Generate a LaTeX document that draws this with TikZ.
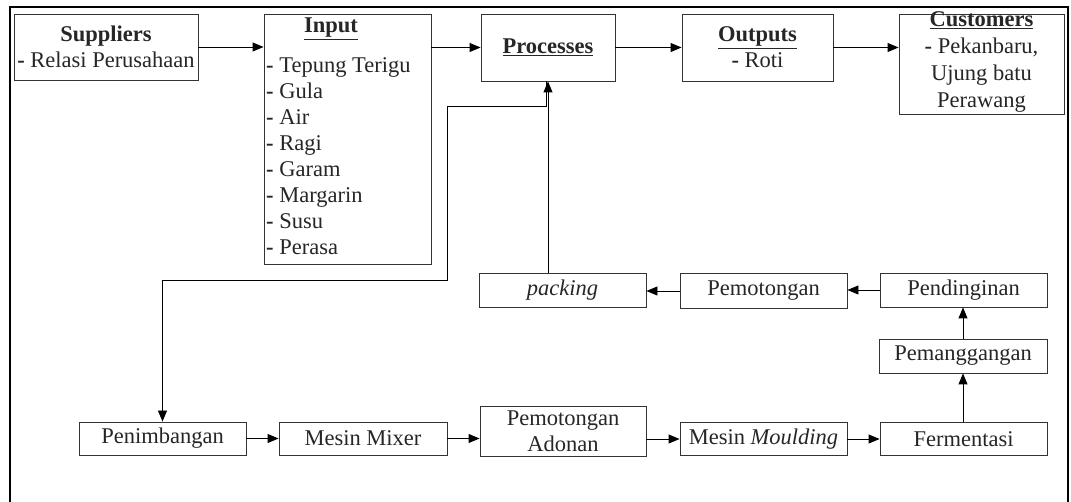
\documentclass[tikz,border=0pt]{standalone}
\usepackage{fontspec}
\setmainfont{Liberation Serif}
\usetikzlibrary{arrows.meta}
\begin{document}
\begin{tikzpicture}[x=1pt,y=-1pt,
  every node/.style={font=\fontsize{22.5}{26}\selectfont, text=black!85},
  box/.style={draw=black!80, line width=0.9pt, inner sep=0pt, align=center},
  lbl/.style={inner sep=0pt, align=center},
  arr/.style={draw=black, line width=0.9pt, -{Triangle[length=11pt,width=9pt]}},
  ln/.style={draw=black, line width=0.9pt}]
\useasboundingbox (0,0) rectangle (1071,502);
\draw[line width=2pt] (10,502) -- (10,7) -- (1068,7) -- (1068,502);

% top row
\node[box, minimum width=184pt, minimum height=66pt] (sup) at (106,47)
  {\textbf{Suppliers}\\\textbf{-} Relasi Perusahaan};
\node[box, minimum width=167pt, minimum height=250pt] (inp) at (347.5,139) {};
\node[lbl] (inph) at (331,29) {\textbf{\underline{Input}}};
\node[lbl, align=left, anchor=west] (inpl) at (266,156)
  {\textbf{-} Tepung Terigu\\\textbf{-} Gula\\\textbf{-} Air\\\textbf{-} Ragi\\\textbf{-} Garam\\\textbf{-} Margarin\\\textbf{-} Susu\\\textbf{-} Perasa};
\node[box, minimum width=134pt, minimum height=67pt] (proc) at (548,47.5)
  {\textbf{\underline{Processes}}};
\node[box, minimum width=151pt, minimum height=67pt] (out) at (757.5,47.5)
  {\textbf{\underline{Outputs}}\\\textbf{-} Roti};
\node[box, minimum width=165pt, minimum height=100pt] (cust) at (981.5,64) {};
\node[lbl, font=\fontsize{22.5}{27}\selectfont] (custt) at (981.5,62)
  {\textbf{\underline{Customers}}\\\textbf{-} Pekanbaru,\\Ujung batu\\Perawang};

% middle row
\node[box, minimum width=167pt, minimum height=34pt] (pack) at (562.5,290) {\textit{packing}};
\node[box, minimum width=167pt, minimum height=35pt] (potong) at (763.5,291) {Pemotongan};
\node[box, minimum width=167pt, minimum height=34pt] (ding) at (963.5,290) {Pendinginan};
\node[box, minimum width=168pt, minimum height=34pt] (pang) at (963,356) {Pemanggangan};

% bottom row
\node[box, minimum width=167pt, minimum height=33pt] (pen) at (162.5,438.5) {Penimbangan};
\node[box, minimum width=168pt, minimum height=33pt] (mix) at (363,438.5) {Mesin Mixer};
\node[box, minimum width=166pt, minimum height=50pt] (adon) at (563,431) {Pemotongan\\Adonan};
\node[box, minimum width=167pt, minimum height=33pt] (mould) at (763.5,439) {Mesin \textit{Moulding}};
\node[box, minimum width=167pt, minimum height=33pt] (ferm) at (963.5,439) {Fermentasi};

% connectors top
\draw[arr] (sup.east) -- (sup.east -| inp.west);
\draw[arr] (inp.east |- proc.west) -- (proc.west);
\draw[arr] (proc.east) -- (out.west);
\draw[arr] (out.east) -- (out.east -| cust.west);

% bottom flow
\draw[arr] (pen.east) -- (mix.west);
\draw[arr] (mix.east) -- (mix.east -| adon.west);
\draw[arr] (adon.east |- mould.west) -- (mould.west);
\draw[arr] (mould.east) -- (ferm.west);
\draw[arr] (ferm.north -| pang.south) -- (pang.south);
\draw[arr] (pang.north) -- (pang.north |- ding.south);
\draw[arr] (ding.west) -- (ding.west -| potong.east);
\draw[arr] (potong.west) -- (potong.west -| pack.east);
\draw[arr] (proc.south |- pack.north) -- (proc.south);

% processes to penimbangan
\coordinate (c1) at (447,106);
\coordinate (c2) at (447,280);
\draw[arr] ([xshift=-2pt]proc.south) |- (c1) -- (c2) -| (pen.north);
\end{tikzpicture}
\end{document}
